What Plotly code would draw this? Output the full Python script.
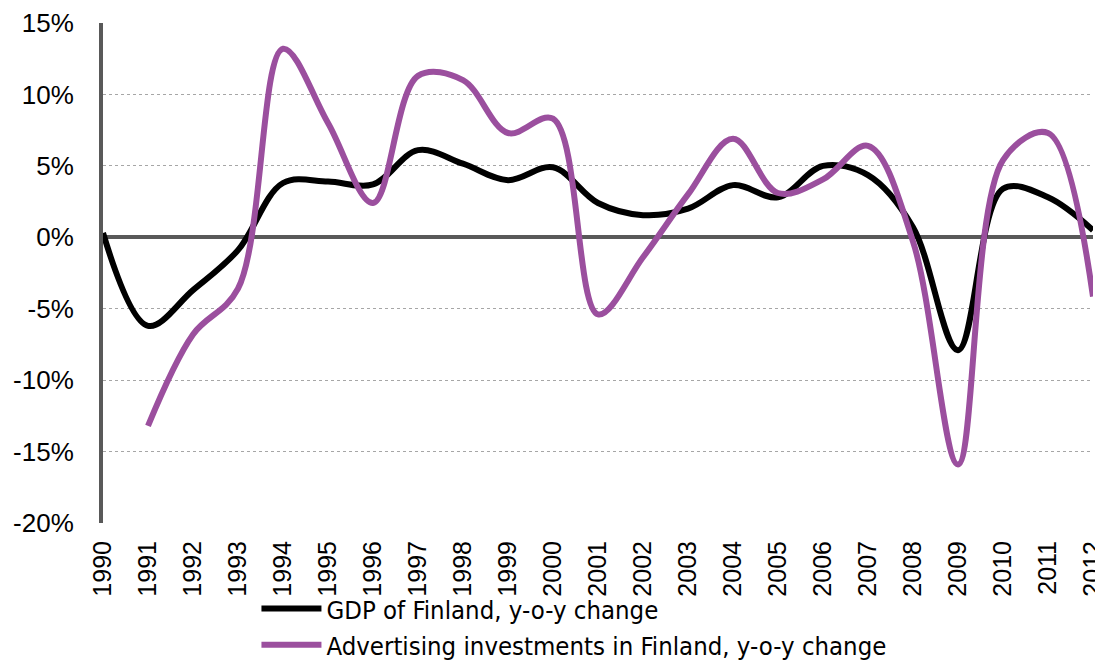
import plotly.graph_objects as go

years = list(range(1990, 2013))
gdp = [0.3, -6.2, -3.7, -0.9, 3.8, 3.9, 3.7, 6.1, 5.15, 4.0, 4.9, 2.4, 1.55,
       2.0, 3.65, 2.8, 5.0, 4.35, 0.7, -7.9, 3.4, 2.8, 0.5]
adv_years = list(range(1991, 2013))
adv = [-13.2, -6.8, -3.6, 13.2, 8.0, 2.4, 11.3, 11.0, 7.3, 8.3, -5.4, -1.4,
       3.0, 6.9, 3.1, 4.05, 6.4, -0.3, -15.9, 5.4, 7.3, -4.15]
y_ticks = [15, 10, 5, 0, -5, -10, -15, -20]
y_labels = ["15%", "10%", "5%", "0%", "-5%", "-10%", "-15%", "-20%"]

LEGEND_FONT = "DejaVu Sans Condensed, DejaVu Sans, sans-serif"
TICK_FONT = "Liberation Sans Narrow, Liberation Sans, Arial, sans-serif"

fig = go.Figure()
fig.add_trace(go.Scatter(
    x=years, y=gdp, mode="lines", name="GDP of Finland, y-o-y change",
    line=dict(color="#000000", width=6, shape="spline", smoothing=1.0),
))
fig.add_trace(go.Scatter(
    x=adv_years, y=adv, mode="lines",
    name="Advertising investments in Finland, y-o-y change",
    line=dict(color="#9B4F9E", width=6, shape="spline", smoothing=1.0),
))

fig.update_layout(
    width=1095, height=653,
    margin=dict(l=95, r=10, t=15, b=138, autoexpand=False),
    paper_bgcolor="white", plot_bgcolor="white",
    font=dict(family=LEGEND_FONT, color="#000000"),
    showlegend=True,
    legend=dict(
        orientation="v", x=0.155, y=-0.125, xanchor="left", yanchor="top",
        font=dict(size=25.5, family=LEGEND_FONT), bgcolor="rgba(0,0,0,0)",
        tracegroupgap=0, itemwidth=60,
    ),
)
fig.update_xaxes(
    range=[1990, 2012], tickmode="array", tickvals=years,
    ticktext=[str(y) for y in years], tickangle=-90,
    tickfont=dict(size=25, family=TICK_FONT),
    showgrid=False, zeroline=False, showline=False, ticks="",
    ticklabelstandoff=12, automargin=False, ticklabeloverflow="allow",
)
fig.update_yaxes(
    range=[-20, 15], tickmode="array", tickvals=y_ticks, ticktext=y_labels,
    tickfont=dict(size=26, family=TICK_FONT),
    showgrid=True, gridcolor="#A6A6A6", gridwidth=1, griddash="dot",
    zeroline=True, zerolinecolor="#595959", zerolinewidth=4,
    showline=True, linecolor="#595959", linewidth=4,
    ticks="", ticklabelstandoff=20, automargin=False,
    ticklabeloverflow="allow",
)

fig.write_html("out.html")
